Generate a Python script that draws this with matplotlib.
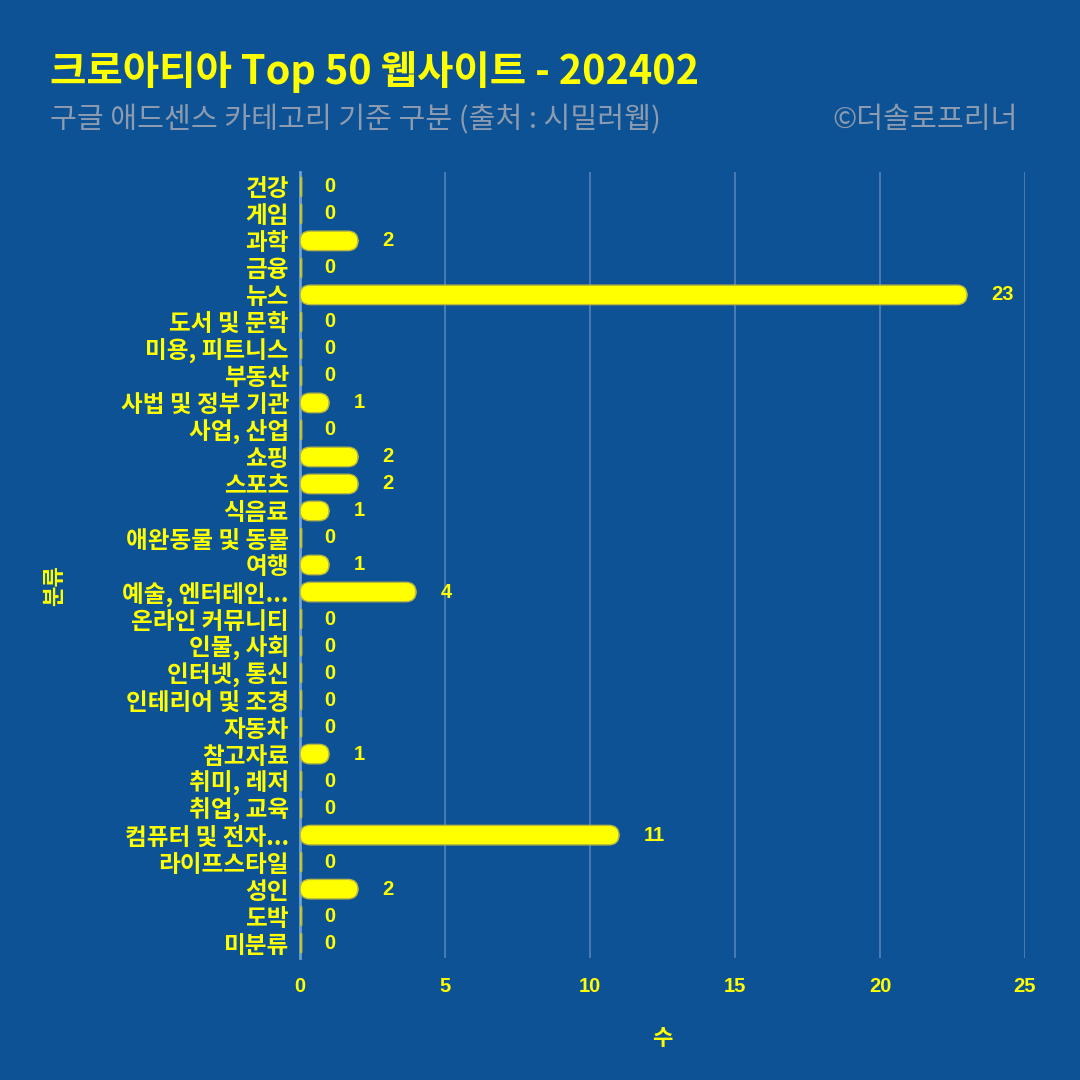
import matplotlib.pyplot as plt
from matplotlib.patches import FancyBboxPatch
import numpy as np

plt.rcParams['font.family'] = ['Noto Sans CJK KR', 'DejaVu Sans']

categories = ['건강', '게임', '과학', '금융', '뉴스', '도서 및 문학', '미용, 피트니스', '부동산',
              '사법 및 정부 기관', '사업, 산업', '쇼핑', '스포츠', '식음료', '애완동물 및 동물',
              '여행', '예술, 엔터테인...', '온라인 커뮤니티', '인물, 사회', '인터넷, 통신',
              '인테리어 및 조경', '자동차', '참고자료', '취미, 레저', '취업, 교육',
              '컴퓨터 및 전자...', '라이프스타일', '성인', '도박', '미분류']
counts = [0, 0, 2, 0, 23, 0, 0, 0, 1, 0, 2, 2, 1, 0, 1, 4, 0, 0, 0, 0, 0, 1, 0, 0, 11, 0, 2, 0, 0]
xticks = [0, 5, 10, 15, 20, 25]

bg = '#0d5294'
yellow = '#ffff00'
grey = '#8c9bb0'
num_font = ['Liberation Sans', 'DejaVu Sans']

fig = plt.figure(figsize=(10.8, 10.8), dpi=100)
fig.patch.set_facecolor(bg)
ax = fig.add_axes([300/1080, 122/1080, 725/1080, 786/1080])
ax.set_facecolor(bg)

ypos = np.arange(len(categories))
h = 0.72
for i, v in enumerate(counts):
    w = max(v, 0.06)
    box = FancyBboxPatch((0, i - h/2), w, h,
                         boxstyle='round,pad=0,rounding_size=%.2f' % min(0.35, w/2),
                         mutation_aspect=1.05,
                         facecolor=yellow, edgecolor='#b8b840', linewidth=1.0, zorder=3)
    ax.add_patch(box)
    ax.text(v + 0.85, i, str(v), color=yellow, fontsize=14.5, fontweight='bold',
            family=num_font, va='center', ha='left', zorder=4)

ax.set_xlim(0, 25)
ax.set_ylim(len(categories) - 0.45, -0.55)
ax.set_yticks(ypos)
ax.set_yticklabels(categories, color=yellow, fontsize=17, fontweight='bold')
ax.set_xticks(xticks)
ax.set_xticklabels([str(t) for t in xticks], color=yellow, fontsize=14.5, fontweight='bold',
                   family=num_font)
ax.tick_params(axis='both', length=0, pad=8)
ax.tick_params(axis='x', pad=14)
ax.grid(axis='x', color='#5283b8', linewidth=1.2, zorder=0)
for s in ['top', 'right', 'bottom']:
    ax.spines[s].set_visible(False)
ax.spines['left'].set_color('#6f9fd0')
ax.spines['left'].set_linewidth(2)

ax.set_xlabel('수', color=yellow, fontsize=16, fontweight='bold', labelpad=22)
fig.text(55/1080, 1 - 585/1080, '분류', color=yellow, fontsize=16, fontweight='bold',
         rotation=90, ha='center', va='center')

fig.text(50/1080, 1 - 72/1080, '크로아티아 Top 50 웹사이트 - 202402', color=yellow,
         fontsize=28.5, fontweight='bold', ha='left', va='center')
fig.text(50/1080, 1 - 120/1080, '구글 애드센스 카테고리 기준 구분 (출처 : 시밀러웹)',
         color=grey, fontsize=21, ha='left', va='center')
fig.text(1018/1080, 1 - 120/1080, '©더솔로프리너', color=grey, fontsize=21,
         ha='right', va='center')

fig.savefig('out.png', dpi=100, facecolor=bg)
